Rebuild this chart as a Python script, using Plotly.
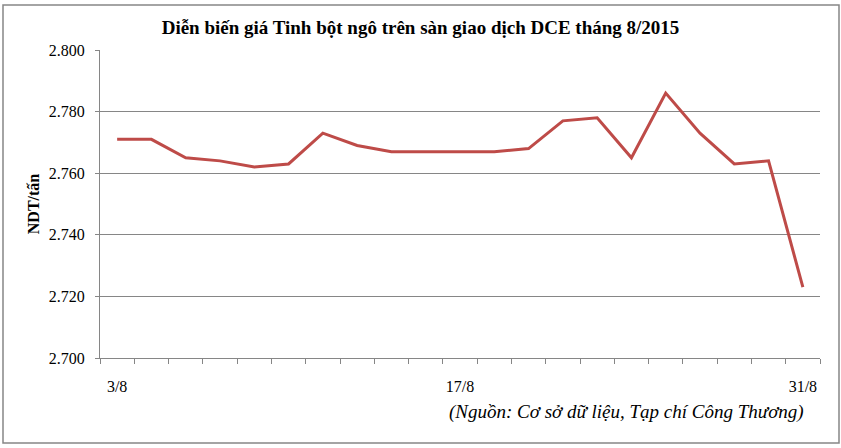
import plotly.graph_objects as go

dates = ["3/8", "4/8", "5/8", "6/8", "7/8", "10/8", "11/8", "12/8", "13/8", "14/8",
         "17/8", "18/8", "19/8", "20/8", "21/8", "24/8", "25/8", "26/8", "27/8", "28/8", "31/8"]
prices = [2771, 2771, 2765, 2764, 2762, 2763, 2773, 2769, 2767, 2767,
          2767, 2767, 2768, 2777, 2778, 2765, 2786, 2773, 2763, 2764, 2723]
label_idx = [0, 10, 20]
y_ticks = [2700, 2720, 2740, 2760, 2780, 2800]

title_text = "Diễn biến giá Tinh bột ngô trên sàn giao dịch DCE tháng 8/2015"
y_title = "NDT/tấn"
source_text = "(Nguồn: Cơ sở dữ liệu, Tạp chí Công Thương)"

x_idx = list(range(len(dates)))
serif = "Liberation Serif, Times New Roman, serif"
axis_gray = "#868686"

fig = go.Figure()
fig.add_trace(go.Scatter(
    x=x_idx, y=prices, mode="lines",
    line=dict(color="#BE4B48", width=3),
    hoverinfo="y",
))

fig.update_layout(
    width=841, height=448,
    margin=dict(l=100, r=21, t=50, b=90),
    paper_bgcolor="white", plot_bgcolor="white",
    separators=",.",
    showlegend=False,
    font=dict(family=serif, size=16, color="black"),
    title=dict(text="<b>" + title_text + "</b>", x=0.5, xref="container", xanchor="center",
               y=1 - 27 / 448, yanchor="middle",
               font=dict(family=serif, size=19, color="black")),
)

fig.update_xaxes(
    range=[-0.5, len(dates) - 0.5],
    tickmode="array",
    tickvals=label_idx,
    ticktext=[dates[i] for i in label_idx],
    ticks="",
    showgrid=False,
    showline=True, linecolor=axis_gray, linewidth=1,
    zeroline=False,
    ticklabelstandoff=14,
    tickfont=dict(family=serif, size=16, color="black"),
    minor=dict(tick0=-0.5, dtick=1, ticks="outside", ticklen=5,
               tickcolor=axis_gray, tickwidth=1, showgrid=False),
)
fig.update_yaxes(
    range=[y_ticks[0], y_ticks[-1]],
    tickmode="array",
    tickvals=y_ticks,
    tickformat=",d",
    ticks="outside", ticklen=4, tickcolor=axis_gray,
    showgrid=True, gridcolor=axis_gray, gridwidth=1,
    showline=True, linecolor=axis_gray, linewidth=1,
    zeroline=False,
    ticklabelstandoff=7,
    tickfont=dict(family=serif, size=16, color="black"),
    title=dict(text="<b>" + y_title + "</b>", standoff=5,
               font=dict(family=serif, size=16, color="black")),
)

# chart border
fig.add_shape(type="rect", xref="paper", yref="paper",
              x0=(3 - 100) / 720, x1=(839 - 100) / 720,
              y0=(358 - 443) / 308, y1=(358 - 5) / 308,
              line=dict(color=axis_gray, width=1.5), fillcolor="rgba(0,0,0,0)",
              layer="below")

fig.add_annotation(text="<i>" + source_text + "</i>", xref="paper", yref="paper",
                   x=(806 - 100) / 720, xanchor="right",
                   y=(358 - 412) / 308, yanchor="middle",
                   showarrow=False,
                   font=dict(family=serif, size=19, color="black"))

fig.write_html("out.html",
               config={"displayModeBar": False},
               post_script="document.body.style.margin='0';document.body.style.overflow='hidden';")
